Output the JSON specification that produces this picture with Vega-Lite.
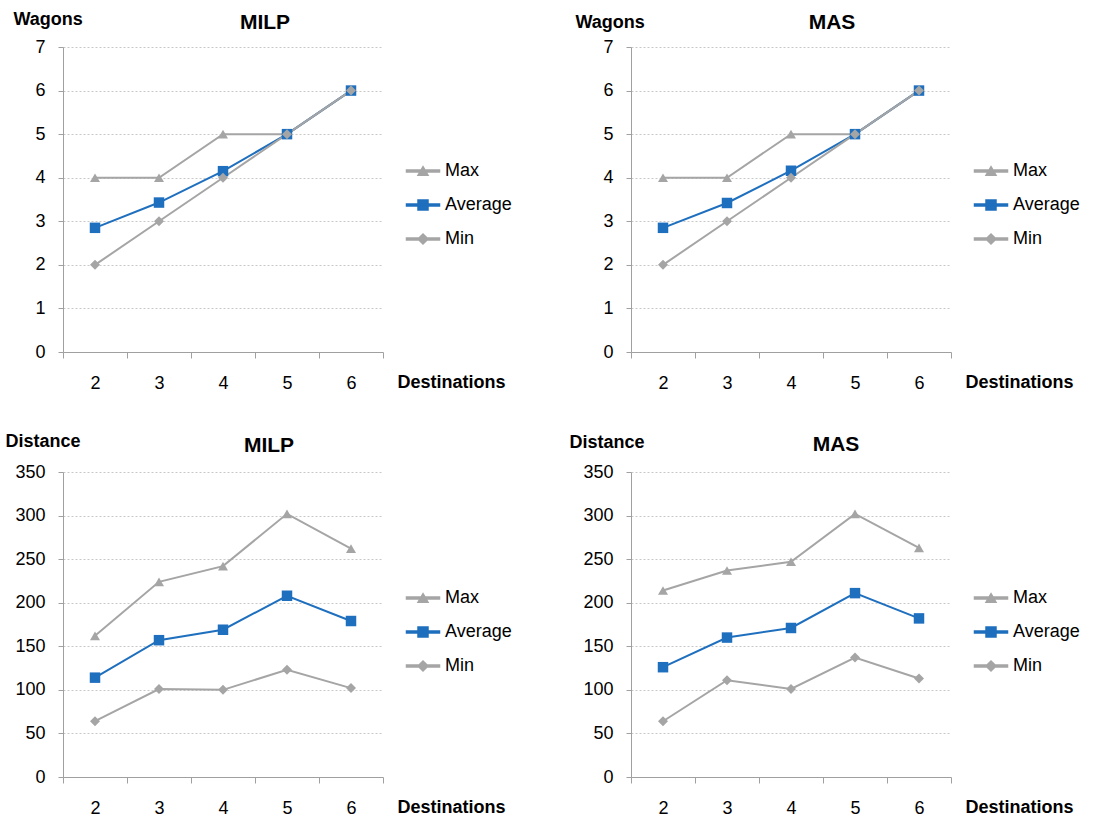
{
  "$schema": "https://vega.github.io/schema/vega-lite/v6.json",
  "background": "white",
  "padding": {"left": 5, "top": 10, "right": 5, "bottom": 5},
  "config": {
    "font": "Liberation Sans",
    "view": {"stroke": null},
    "title": {"fontSize": 21, "fontWeight": "bold", "font": "Liberation Sans", "color": "#000000", "anchor": "middle", "offset": 0},
    "axisX": {"labelAngle": 0, "tickBand": "extent", "tickSize": 6, "domainColor": "#a0a0a0", "tickColor": "#a0a0a0", "labelFontSize": 18, "labelColor": "#000000", "labelBaseline": "middle", "labelPadding": 25, "grid": false, "titleFontSize": 18, "titleFontWeight": "bold", "titleColor": "#000000", "titleAngle": 0, "titleAlign": "left", "titleBaseline": "middle", "titleX": 334, "titleY": 30},
    "axisY": {"tickSize": 5, "domainColor": "#a0a0a0", "tickColor": "#a0a0a0", "labelFontSize": 18, "labelColor": "#000000", "labelPadding": 13, "grid": true, "gridColor": "#c8c8c8", "gridDash": [2, 2], "titleFontSize": 18, "titleFontWeight": "bold", "titleColor": "#000000", "titleAngle": 0, "titleAlign": "left", "titleBaseline": "middle"},
    "legend": {"orient": "none", "title": null, "labelFontSize": 18, "labelColor": "#000000", "labelFont": "Liberation Sans", "symbolSize": 100, "rowPadding": 16, "labelOffset": 13, "padding": 0}
  },
  "datasets": {
    "pts": [
      {"p": "WM", "s": "Max", "d": 2, "v": 4}, {"p": "WM", "s": "Max", "d": 3, "v": 4}, {"p": "WM", "s": "Max", "d": 4, "v": 5}, {"p": "WM", "s": "Max", "d": 5, "v": 5}, {"p": "WM", "s": "Max", "d": 6, "v": 6},
      {"p": "WM", "s": "Average", "d": 2, "v": 2.85}, {"p": "WM", "s": "Average", "d": 3, "v": 3.43}, {"p": "WM", "s": "Average", "d": 4, "v": 4.15}, {"p": "WM", "s": "Average", "d": 5, "v": 5}, {"p": "WM", "s": "Average", "d": 6, "v": 6},
      {"p": "WM", "s": "Min", "d": 2, "v": 2}, {"p": "WM", "s": "Min", "d": 3, "v": 3}, {"p": "WM", "s": "Min", "d": 4, "v": 4}, {"p": "WM", "s": "Min", "d": 5, "v": 5}, {"p": "WM", "s": "Min", "d": 6, "v": 6},
      {"p": "WA", "s": "Max", "d": 2, "v": 4}, {"p": "WA", "s": "Max", "d": 3, "v": 4}, {"p": "WA", "s": "Max", "d": 4, "v": 5}, {"p": "WA", "s": "Max", "d": 5, "v": 5}, {"p": "WA", "s": "Max", "d": 6, "v": 6},
      {"p": "WA", "s": "Average", "d": 2, "v": 2.85}, {"p": "WA", "s": "Average", "d": 3, "v": 3.42}, {"p": "WA", "s": "Average", "d": 4, "v": 4.16}, {"p": "WA", "s": "Average", "d": 5, "v": 5}, {"p": "WA", "s": "Average", "d": 6, "v": 6},
      {"p": "WA", "s": "Min", "d": 2, "v": 2}, {"p": "WA", "s": "Min", "d": 3, "v": 3}, {"p": "WA", "s": "Min", "d": 4, "v": 4}, {"p": "WA", "s": "Min", "d": 5, "v": 5}, {"p": "WA", "s": "Min", "d": 6, "v": 6},
      {"p": "DM", "s": "Max", "d": 2, "v": 162}, {"p": "DM", "s": "Max", "d": 3, "v": 224}, {"p": "DM", "s": "Max", "d": 4, "v": 242}, {"p": "DM", "s": "Max", "d": 5, "v": 302}, {"p": "DM", "s": "Max", "d": 6, "v": 262},
      {"p": "DM", "s": "Average", "d": 2, "v": 114}, {"p": "DM", "s": "Average", "d": 3, "v": 157}, {"p": "DM", "s": "Average", "d": 4, "v": 169}, {"p": "DM", "s": "Average", "d": 5, "v": 208}, {"p": "DM", "s": "Average", "d": 6, "v": 179},
      {"p": "DM", "s": "Min", "d": 2, "v": 64}, {"p": "DM", "s": "Min", "d": 3, "v": 101}, {"p": "DM", "s": "Min", "d": 4, "v": 100}, {"p": "DM", "s": "Min", "d": 5, "v": 123}, {"p": "DM", "s": "Min", "d": 6, "v": 102},
      {"p": "DA", "s": "Max", "d": 2, "v": 214}, {"p": "DA", "s": "Max", "d": 3, "v": 237}, {"p": "DA", "s": "Max", "d": 4, "v": 247}, {"p": "DA", "s": "Max", "d": 5, "v": 302}, {"p": "DA", "s": "Max", "d": 6, "v": 263},
      {"p": "DA", "s": "Average", "d": 2, "v": 126}, {"p": "DA", "s": "Average", "d": 3, "v": 160}, {"p": "DA", "s": "Average", "d": 4, "v": 171}, {"p": "DA", "s": "Average", "d": 5, "v": 211}, {"p": "DA", "s": "Average", "d": 6, "v": 182},
      {"p": "DA", "s": "Min", "d": 2, "v": 64}, {"p": "DA", "s": "Min", "d": 3, "v": 111}, {"p": "DA", "s": "Min", "d": 4, "v": 101}, {"p": "DA", "s": "Min", "d": 5, "v": 137}, {"p": "DA", "s": "Min", "d": 6, "v": 113}
    ]
  },
  "data": {"name": "pts"},
  "columns": 2,
  "spacing": {"row": 120, "column": 248},
  "bounds": "flush",
  "resolve": {"scale": {"x": "independent", "y": "independent", "color": "independent", "fill": "independent", "shape": "independent"}, "legend": {"color": "independent", "fill": "independent", "shape": "independent"}},
  "concat": [
    {
      "width": 320, "height": 305,
      "title": {"text": "MILP", "dx": 42, "dy": 27},
      "transform": [{"filter": "datum.p === 'WM'"}],
      "encoding": {
        "x": {"field": "d", "type": "ordinal", "scale": {"type": "band", "paddingInner": 0, "paddingOuter": 0}, "axis": {"title": "Destinations"}},
        "y": {"field": "v", "type": "quantitative", "scale": {"domain": [0, 7], "nice": false}, "axis": {"title": "Wagons", "values": [0, 1, 2, 3, 4, 5, 6, 7], "titleX": -50, "titleY": -28}}
      },
      "layer": [
        {"mark": {"type": "point", "filled": true, "opacity": 0},
          "encoding": {
            "fill": {"field": "s", "type": "nominal", "scale": {"domain": ["Max", "Average", "Min"], "range": ["#a5a5a5", "#1f6fbf", "#a5a5a5"]}, "legend": {"legendX": 351, "legendY": 115, "symbolOpacity": 1}},
            "shape": {"field": "s", "type": "nominal", "scale": {"domain": ["Max", "Average", "Min"], "range": ["M-3.3,-0.2H3.3V0.2H-3.3ZM0,-0.87L1,0.87L-1,0.87Z", "M-3.3,-0.2H3.3V0.2H-3.3ZM-1,-1H1V1H-1Z", "M-3.3,-0.2H3.3V0.2H-3.3ZM0,-1L1,0L0,1L-1,0Z"]}, "legend": {"legendX": 351, "legendY": 115, "symbolOpacity": 1}}
          }},
        {"mark": {"type": "line", "strokeWidth": 2}, "encoding": {"color": {"field": "s", "type": "nominal", "scale": {"domain": ["Max", "Average", "Min"], "range": ["#a5a5a5", "#1f6fbf", "#a5a5a5"]}, "legend": null}}},
        {"transform": [{"filter": "datum.s === 'Max'"}], "mark": {"type": "point", "shape": "triangle-up", "filled": true, "opacity": 1, "size": 100, "color": "#a5a5a5"}},
        {"transform": [{"filter": "datum.s === 'Average'"}], "mark": {"type": "point", "shape": "square", "filled": true, "opacity": 1, "size": 110, "color": "#1f6fbf"}},
        {"transform": [{"filter": "datum.s === 'Min'"}], "mark": {"type": "point", "shape": "diamond", "filled": true, "opacity": 1, "size": 100, "color": "#a5a5a5"}}
      ]
    },
    {
      "width": 320, "height": 305,
      "title": {"text": "MAS", "dx": 41, "dy": 24},
      "transform": [{"filter": "datum.p === 'WA'"}],
      "encoding": {
        "x": {"field": "d", "type": "ordinal", "scale": {"type": "band", "paddingInner": 0, "paddingOuter": 0}, "axis": {"title": "Destinations"}},
        "y": {"field": "v", "type": "quantitative", "scale": {"domain": [0, 7], "nice": false}, "axis": {"title": "Wagons", "values": [0, 1, 2, 3, 4, 5, 6, 7], "titleX": -56, "titleY": -25}}
      },
      "layer": [
        {"mark": {"type": "point", "filled": true, "opacity": 0},
          "encoding": {
            "fill": {"field": "s", "type": "nominal", "scale": {"domain": ["Max", "Average", "Min"], "range": ["#a5a5a5", "#1f6fbf", "#a5a5a5"]}, "legend": {"legendX": 351, "legendY": 115, "symbolOpacity": 1}},
            "shape": {"field": "s", "type": "nominal", "scale": {"domain": ["Max", "Average", "Min"], "range": ["M-3.3,-0.2H3.3V0.2H-3.3ZM0,-0.87L1,0.87L-1,0.87Z", "M-3.3,-0.2H3.3V0.2H-3.3ZM-1,-1H1V1H-1Z", "M-3.3,-0.2H3.3V0.2H-3.3ZM0,-1L1,0L0,1L-1,0Z"]}, "legend": {"legendX": 351, "legendY": 115, "symbolOpacity": 1}}
          }},
        {"mark": {"type": "line", "strokeWidth": 2}, "encoding": {"color": {"field": "s", "type": "nominal", "scale": {"domain": ["Max", "Average", "Min"], "range": ["#a5a5a5", "#1f6fbf", "#a5a5a5"]}, "legend": null}}},
        {"transform": [{"filter": "datum.s === 'Max'"}], "mark": {"type": "point", "shape": "triangle-up", "filled": true, "opacity": 1, "size": 100, "color": "#a5a5a5"}},
        {"transform": [{"filter": "datum.s === 'Average'"}], "mark": {"type": "point", "shape": "square", "filled": true, "opacity": 1, "size": 110, "color": "#1f6fbf"}},
        {"transform": [{"filter": "datum.s === 'Min'"}], "mark": {"type": "point", "shape": "diamond", "filled": true, "opacity": 1, "size": 100, "color": "#a5a5a5"}}
      ]
    },
    {
      "width": 320, "height": 305,
      "title": {"text": "MILP", "dx": 46, "dy": 28},
      "transform": [{"filter": "datum.p === 'DM'"}],
      "encoding": {
        "x": {"field": "d", "type": "ordinal", "scale": {"type": "band", "paddingInner": 0, "paddingOuter": 0}, "axis": {"title": "Destinations"}},
        "y": {"field": "v", "type": "quantitative", "scale": {"domain": [0, 350], "nice": false}, "axis": {"title": "Distance", "values": [0, 50, 100, 150, 200, 250, 300, 350], "titleX": -58, "titleY": -31}}
      },
      "layer": [
        {"mark": {"type": "point", "filled": true, "opacity": 0},
          "encoding": {
            "fill": {"field": "s", "type": "nominal", "scale": {"domain": ["Max", "Average", "Min"], "range": ["#a5a5a5", "#1f6fbf", "#a5a5a5"]}, "legend": {"legendX": 351, "legendY": 117, "symbolOpacity": 1}},
            "shape": {"field": "s", "type": "nominal", "scale": {"domain": ["Max", "Average", "Min"], "range": ["M-3.3,-0.2H3.3V0.2H-3.3ZM0,-0.87L1,0.87L-1,0.87Z", "M-3.3,-0.2H3.3V0.2H-3.3ZM-1,-1H1V1H-1Z", "M-3.3,-0.2H3.3V0.2H-3.3ZM0,-1L1,0L0,1L-1,0Z"]}, "legend": {"legendX": 351, "legendY": 117, "symbolOpacity": 1}}
          }},
        {"mark": {"type": "line", "strokeWidth": 2}, "encoding": {"color": {"field": "s", "type": "nominal", "scale": {"domain": ["Max", "Average", "Min"], "range": ["#a5a5a5", "#1f6fbf", "#a5a5a5"]}, "legend": null}}},
        {"transform": [{"filter": "datum.s === 'Max'"}], "mark": {"type": "point", "shape": "triangle-up", "filled": true, "opacity": 1, "size": 100, "color": "#a5a5a5"}},
        {"transform": [{"filter": "datum.s === 'Average'"}], "mark": {"type": "point", "shape": "square", "filled": true, "opacity": 1, "size": 110, "color": "#1f6fbf"}},
        {"transform": [{"filter": "datum.s === 'Min'"}], "mark": {"type": "point", "shape": "diamond", "filled": true, "opacity": 1, "size": 100, "color": "#a5a5a5"}}
      ]
    },
    {
      "width": 320, "height": 305,
      "title": {"text": "MAS", "dx": 45, "dy": 26},
      "transform": [{"filter": "datum.p === 'DA'"}],
      "encoding": {
        "x": {"field": "d", "type": "ordinal", "scale": {"type": "band", "paddingInner": 0, "paddingOuter": 0}, "axis": {"title": "Destinations"}},
        "y": {"field": "v", "type": "quantitative", "scale": {"domain": [0, 350], "nice": false}, "axis": {"title": "Distance", "values": [0, 50, 100, 150, 200, 250, 300, 350], "titleX": -62, "titleY": -30}}
      },
      "layer": [
        {"mark": {"type": "point", "filled": true, "opacity": 0},
          "encoding": {
            "fill": {"field": "s", "type": "nominal", "scale": {"domain": ["Max", "Average", "Min"], "range": ["#a5a5a5", "#1f6fbf", "#a5a5a5"]}, "legend": {"legendX": 351, "legendY": 117, "symbolOpacity": 1}},
            "shape": {"field": "s", "type": "nominal", "scale": {"domain": ["Max", "Average", "Min"], "range": ["M-3.3,-0.2H3.3V0.2H-3.3ZM0,-0.87L1,0.87L-1,0.87Z", "M-3.3,-0.2H3.3V0.2H-3.3ZM-1,-1H1V1H-1Z", "M-3.3,-0.2H3.3V0.2H-3.3ZM0,-1L1,0L0,1L-1,0Z"]}, "legend": {"legendX": 351, "legendY": 117, "symbolOpacity": 1}}
          }},
        {"mark": {"type": "line", "strokeWidth": 2}, "encoding": {"color": {"field": "s", "type": "nominal", "scale": {"domain": ["Max", "Average", "Min"], "range": ["#a5a5a5", "#1f6fbf", "#a5a5a5"]}, "legend": null}}},
        {"transform": [{"filter": "datum.s === 'Max'"}], "mark": {"type": "point", "shape": "triangle-up", "filled": true, "opacity": 1, "size": 100, "color": "#a5a5a5"}},
        {"transform": [{"filter": "datum.s === 'Average'"}], "mark": {"type": "point", "shape": "square", "filled": true, "opacity": 1, "size": 110, "color": "#1f6fbf"}},
        {"transform": [{"filter": "datum.s === 'Min'"}], "mark": {"type": "point", "shape": "diamond", "filled": true, "opacity": 1, "size": 100, "color": "#a5a5a5"}}
      ]
    }
  ]
}
